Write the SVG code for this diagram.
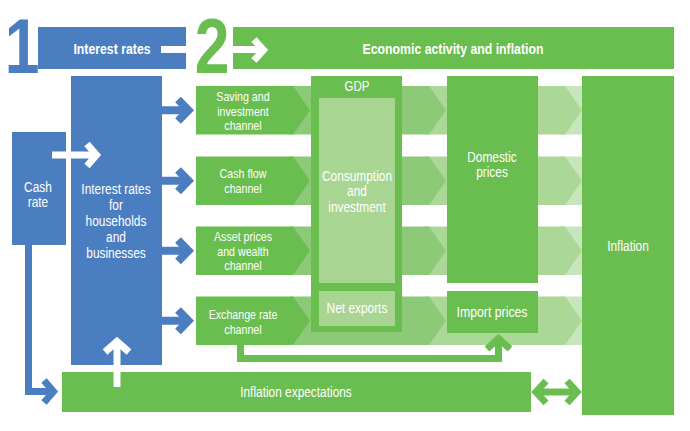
<svg xmlns="http://www.w3.org/2000/svg" width="690" height="431" viewBox="0 0 690 431">
<defs>
<style>
.blue{fill:#4a7ec1}
.green{fill:#6abd4f}
.pale{fill:#a9d592}
.s2{fill:#8dca78}
.s3{fill:#abd797}
.s4{fill:#c8e6bb}
text{font-family:"Liberation Sans",Arial,sans-serif;fill:#ffffff;text-anchor:middle}
.t{font-size:14.5px}
.ch{font-size:13px}
.hd{font-size:15px;font-weight:bold}
.num{font-size:78px;font-weight:bold}
.wl{fill:none;stroke:#ffffff;stroke-width:7}
.bl{fill:none;stroke:#4a7ec1;stroke-width:8}
.gl{fill:none;stroke:#6abd4f;stroke-width:7}
</style>
</defs>
<rect width="690" height="431" fill="#ffffff"/>

<!-- background chevron bands -->
<g id="bands">
<path class="s4" d="M560,86H600V134.5H560Z M560,156.5H600V205H560Z M560,226.5H600V275H560Z M560,296.5H600V345H560Z"/>
<path class="s3" d="M425,86H565L582,110.25L565,134.5H425Z M425,156.5H565L582,180.75L565,205H425Z M425,226.5H565L582,250.75L565,275H425Z M425,296.5H565L582,320.75L565,345H425Z"/>
<path class="s2" d="M290,86H429L446,110.25L429,134.5H290Z M290,156.5H429L446,180.75L429,205H290Z M290,226.5H429L446,250.75L429,275H290Z M290,296.5H429L446,320.75L429,345H290Z"/>
</g>

<g id="num1"><text class="num" x="22" y="73" transform="matrix(0.8 0 0 1 4.4 0)" style="fill:#4a7ec1">1</text></g>
<g id="num2"><text class="num" x="212" y="73" transform="matrix(0.8 0 0 1 42.4 0)" style="fill:#6abd4f">2</text></g>

<g id="interest-rates">
<rect class="blue" x="38" y="27" width="148" height="42"/>
<rect x="161" y="46" width="25" height="7" fill="#ffffff"/>
<text class="hd" x="112" y="54" transform="matrix(0.82 0 0 1 20.16 0)">Interest rates</text>
</g>

<g id="economic-activity">
<rect class="green" x="233" y="27" width="441" height="42"/>
<text class="hd" x="453" y="54" transform="matrix(0.82 0 0 1 81.54 0)">Economic activity and inflation</text>
</g>

<g id="cash-rate">
<rect class="blue" x="12" y="132" width="54" height="113"/>
<g transform="matrix(0.82 0 0 1 6.84 0)">
<text class="t" x="38" y="192">Cash</text>
<text class="t" x="38" y="207.5">rate</text>
</g>
</g>

<g id="interest-households">
<rect class="blue" x="71" y="76" width="91" height="289"/>
<g transform="matrix(0.82 0 0 1 20.88 0)">
<text class="t" x="116" y="194">Interest rates</text>
<text class="t" x="116" y="210">for</text>
<text class="t" x="116" y="226">households</text>
<text class="t" x="116" y="242">and</text>
<text class="t" x="116" y="258">businesses</text>
</g>
</g>

<g id="saving-channel">
<path class="green" d="M196,86H293L310,110.25L293,134.5H196Z"/>
<g transform="matrix(0.82 0 0 1 43.74 0)">
<text class="ch" x="243" y="101.5">Saving and</text>
<text class="ch" x="243" y="116">investment</text>
<text class="ch" x="243" y="130.5">channel</text>
</g>
</g>

<g id="cashflow-channel">
<path class="green" d="M196,156.5H293L310,180.75L293,205H196Z"/>
<g transform="matrix(0.82 0 0 1 43.74 0)">
<text class="ch" x="243" y="178.5">Cash flow</text>
<text class="ch" x="243" y="193">channel</text>
</g>
</g>

<g id="asset-channel">
<path class="green" d="M196,226.5H293L310,250.75L293,275H196Z"/>
<g transform="matrix(0.82 0 0 1 43.74 0)">
<text class="ch" x="243" y="241.5">Asset prices</text>
<text class="ch" x="243" y="256">and wealth</text>
<text class="ch" x="243" y="270.5">channel</text>
</g>
</g>

<g id="exchange-channel">
<path class="green" d="M196,296.5H293L310,320.75L293,345H196Z"/>
<g transform="matrix(0.82 0 0 1 43.74 0)">
<text class="ch" x="243" y="319.5">Exchange rate</text>
<text class="ch" x="243" y="334">channel</text>
</g>
</g>

<g id="gdp">
<rect class="green" x="311" y="76" width="91" height="256"/>
<text class="t" x="357" y="91" style="font-size:14px" transform="matrix(0.82 0 0 1 64.26 0)">GDP</text>
</g>

<g id="consumption">
<rect class="pale" x="319" y="98" width="76" height="185"/>
<g transform="matrix(0.82 0 0 1 64.26 0)">
<text class="t" x="357" y="181">Consumption</text>
<text class="t" x="357" y="196.5">and</text>
<text class="t" x="357" y="212">investment</text>
</g>
</g>

<g id="net-exports">
<rect class="pale" x="319" y="291" width="76" height="35"/>
<text class="t" x="357" y="313.5" transform="matrix(0.82 0 0 1 64.26 0)">Net exports</text>
</g>

<g id="domestic-prices">
<rect class="green" x="447" y="76" width="91" height="207"/>
<g transform="matrix(0.82 0 0 1 88.56 0)">
<text class="t" x="492" y="162">Domestic</text>
<text class="t" x="492" y="177.5">prices</text>
</g>
</g>

<g id="import-prices">
<rect class="green" x="447" y="291" width="91" height="42"/>
<text class="t" x="492" y="317" style="font-size:15px" transform="matrix(0.82 0 0 1 88.56 0)">Import prices</text>
</g>

<g id="inflation">
<rect class="green" x="582" y="76" width="92" height="339"/>
<text class="t" x="628" y="251" transform="matrix(0.82 0 0 1 113.04 0)">Inflation</text>
</g>

<g id="inflation-expectations">
<rect class="green" x="62" y="372" width="469" height="40"/>
<text class="t" x="296" y="397" transform="matrix(0.82 0 0 1 53.28 0)">Inflation expectations</text>
</g>

<g id="connectors">
<!-- header arrow -->
<line class="wl" x1="233" y1="49.5" x2="262" y2="49.5"/>
<polyline class="wl" points="254,39.5 263.5,50 254,60.5"/>
<!-- cash rate to interest rates -->
<line class="wl" x1="52" y1="155" x2="95" y2="155"/>
<polyline class="wl" points="87,144 96.5,155 87,166"/>
<!-- expectations up -->
<line class="wl" x1="117" y1="387" x2="117" y2="343"/>
<polyline class="wl" points="105,352 117,341.5 129,352"/>
<!-- blue channel arrows -->
<g>
<line class="bl" x1="162" y1="110.25" x2="187" y2="110.25"/>
<polyline class="bl" points="178,99.5 188.5,110.25 178,121"/>
<line class="bl" x1="162" y1="180.75" x2="187" y2="180.75"/>
<polyline class="bl" points="178,170 188.5,180.75 178,191.5"/>
<line class="bl" x1="162" y1="250.75" x2="187" y2="250.75"/>
<polyline class="bl" points="178,240 188.5,250.75 178,261.5"/>
<line class="bl" x1="162" y1="320.75" x2="187" y2="320.75"/>
<polyline class="bl" points="178,310 188.5,320.75 178,331.5"/>
</g>
<!-- cash rate to expectations -->
<polyline class="bl" style="stroke-width:7" points="28.5,245 28.5,391.5 52,391.5"/>
<polyline class="bl" style="stroke-width:7" points="44,380.5 53.5,391.5 44,402.5"/>
<!-- exchange rate to import prices -->
<polyline class="gl" points="240.5,345 240.5,358.5 498.5,358.5 498.5,341"/>
<polyline class="gl" points="487,349 498.5,338.5 510,349"/>
<!-- expectations <-> inflation -->
<line class="gl" x1="537" y1="392" x2="576" y2="392"/>
<polyline class="gl" points="546,381 536,392 546,403"/>
<polyline class="gl" points="567,381 577,392 567,403"/>
</g>
</svg>
